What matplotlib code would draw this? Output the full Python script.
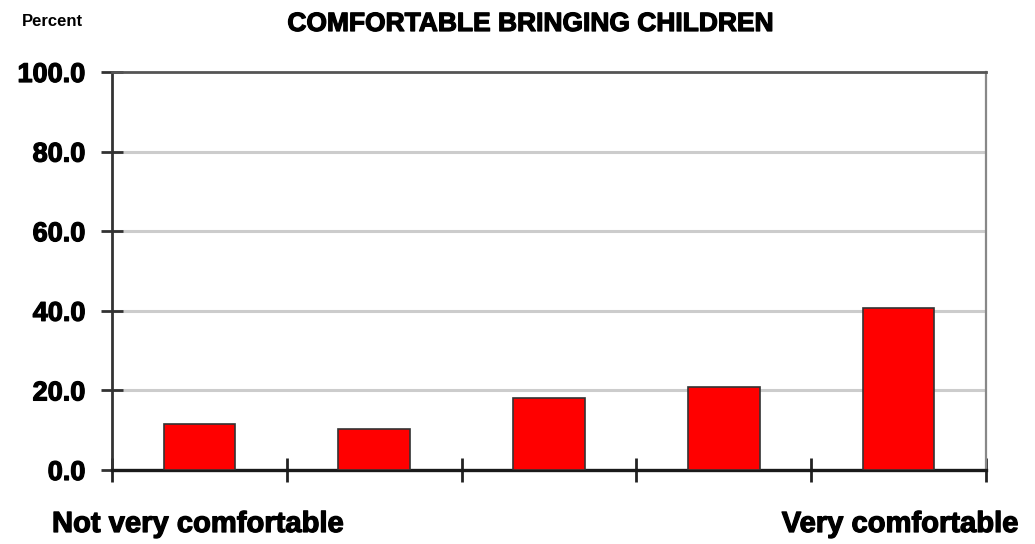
import matplotlib
matplotlib.use("Agg")
import matplotlib.pyplot as plt
import matplotlib.patheffects as pe
from matplotlib import font_manager

# values
categories = ["1", "2", "3", "4", "5"]
percent = [11.5, 10.3, 18.0, 20.9, 40.7]
yticks = [0, 20, 40, 60, 80, 100]
ytick_labels = ["0.0", "20.0", "40.0", "60.0", "80.0", "100.0"]

names = {f.name for f in font_manager.fontManager.ttflist}
fam = ["Liberation Sans Narrow", "Liberation Sans", "DejaVu Sans"]
fam = [f for f in fam if f in names] or ["DejaVu Sans"]
plt.rcParams['font.family'] = fam

heavy = [pe.withStroke(linewidth=0.9, foreground="black")]

fig = plt.figure(figsize=(10.35, 5.44), dpi=100)
ax = fig.add_axes([112 / 1035, 74 / 544, 874 / 1035, 398 / 544])

pos = [i + 0.5 for i in range(len(categories))]
ax.bar(pos, percent, width=0.41, color="#ff0000", edgecolor="#333333",
       linewidth=1.2, zorder=3)

ax.set_xlim(0, len(categories))
ax.set_ylim(0, 100)
ax.set_xticks(range(len(categories) + 1))
ax.set_xticklabels([])
ax.set_yticks(yticks)
ax.set_yticklabels(ytick_labels, fontsize=19.5, fontweight="bold")
for t in ax.get_yticklabels():
    t.set_path_effects(heavy)

for y in yticks[1:-1]:
    ax.axhline(y, color="#cccccc", linewidth=2.2, zorder=1)

ax.tick_params(axis="x", direction="inout", length=17, width=2, color="#222222")
ax.tick_params(axis="y", direction="inout", length=16, width=2, color="#333333", pad=11)

ax.spines["left"].set_color("#333333")
ax.spines["left"].set_linewidth(2)
ax.spines["bottom"].set_color("#1a1a1a")
ax.spines["bottom"].set_linewidth(2.4)
ax.spines["top"].set_color("#555555")
ax.spines["top"].set_linewidth(2)
ax.spines["right"].set_color("#888888")
ax.spines["right"].set_linewidth(1.6)

fig.text(530 / 1035, 1 - 24 / 544, "COMFORTABLE BRINGING CHILDREN", ha="center",
         va="center", fontsize=19, fontweight="bold", path_effects=heavy)
fig.text(22 / 1035, 1 - 21 / 544, "Percent", ha="left", va="center",
         fontsize=12, fontweight="bold")
fig.text(52 / 1035, 1 - 524 / 544, "Not very comfortable", ha="left",
         va="center", fontsize=21, fontweight="bold", path_effects=heavy)
fig.text(1018 / 1035, 1 - 524 / 544, "Very comfortable", ha="right",
         va="center", fontsize=21, fontweight="bold", path_effects=heavy)

fig.savefig("out.png", dpi=100)
